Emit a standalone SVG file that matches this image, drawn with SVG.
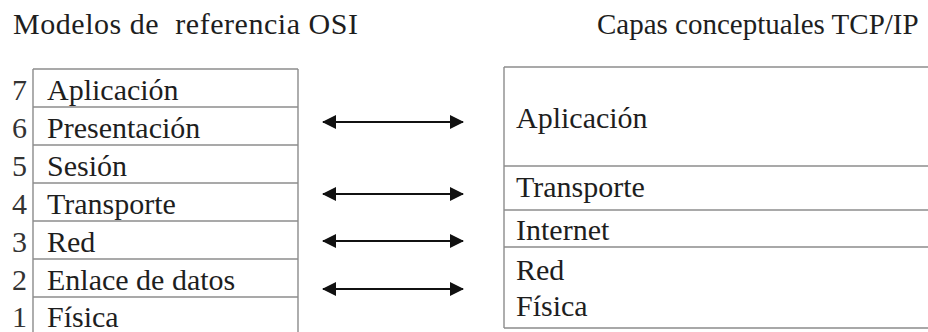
<svg xmlns="http://www.w3.org/2000/svg" width="928" height="332" viewBox="0 0 928 332">
  <style>
    text { font-family: "Liberation Serif", "Times New Roman", serif; fill: #1e1e1e; }
    .title { font-size: 30px; }
    .title-r { font-size: 29px; }
    .layer { font-size: 30px; }
    .num { font-size: 30px; fill: #333; }
    .rule { stroke: #8c8c8c; stroke-width: 1.4; fill: none; }
    .link { stroke: #111; stroke-width: 2; fill: none; }
  </style>
  <defs>
    <marker id="head" viewBox="0 0 14 14" refX="13" refY="7" markerWidth="14" markerHeight="14" markerUnits="userSpaceOnUse" orient="auto-start-reverse">
      <path d="M0,0 L14,7 L0,14 Z" fill="#111"/>
    </marker>
  </defs>

  <rect width="928" height="332" fill="#ffffff"/>

  <!-- headings -->
  <text class="title" x="13" y="34" textLength="345" lengthAdjust="spacing" xml:space="preserve">Modelos de  referencia OSI</text>
  <text class="title-r" x="597" y="34">Capas conceptuales TCP/IP</text>

  <!-- OSI reference model: seven stacked layers -->
  <g id="osi">
    <path class="rule" d="M33,69 V332 M298,69 V332"/>
    <g id="osi-7">
      <path class="rule" d="M33,69 H298"/>
      <text class="num" x="12" y="100">7</text>
      <text class="layer" x="47" y="100">Aplicación</text>
    </g>
    <g id="osi-6">
      <path class="rule" d="M33,107 H298"/>
      <text class="num" x="12" y="138">6</text>
      <text class="layer" x="47" y="138">Presentación</text>
    </g>
    <g id="osi-5">
      <path class="rule" d="M33,145 H298"/>
      <text class="num" x="12" y="176">5</text>
      <text class="layer" x="47" y="176">Sesión</text>
    </g>
    <g id="osi-4">
      <path class="rule" d="M33,183 H298"/>
      <text class="num" x="12" y="214">4</text>
      <text class="layer" x="47" y="214">Transporte</text>
    </g>
    <g id="osi-3">
      <path class="rule" d="M33,221 H298"/>
      <text class="num" x="12" y="252">3</text>
      <text class="layer" x="47" y="252">Red</text>
    </g>
    <g id="osi-2">
      <path class="rule" d="M33,259 H298"/>
      <text class="num" x="12" y="290">2</text>
      <text class="layer" x="47" y="290">Enlace de datos</text>
    </g>
    <g id="osi-1">
      <path class="rule" d="M33,297 H298"/>
      <text class="num" x="12" y="327">1</text>
      <text class="layer" x="47" y="327">Física</text>
    </g>
  </g>

  <!-- TCP/IP conceptual layers -->
  <g id="tcpip">
    <path class="rule" d="M504,67 V328"/>
    <g id="tcp-aplicacion">
      <path class="rule" d="M504,67 H928"/>
      <text class="layer" x="516" y="128">Aplicación</text>
    </g>
    <g id="tcp-transporte">
      <path class="rule" d="M504,166 H928"/>
      <text class="layer" x="516" y="197">Transporte</text>
    </g>
    <g id="tcp-internet">
      <path class="rule" d="M504,210 H928"/>
      <text class="layer" x="516" y="240">Internet</text>
    </g>
    <g id="tcp-red-fisica">
      <path class="rule" d="M504,247 H928 M504,328 H928"/>
      <text class="layer" x="516" y="280">Red</text>
      <text class="layer" x="516" y="316">Física</text>
    </g>
  </g>

  <!-- correspondence arrows -->
  <g id="connectors">
    <line class="link" x1="323" y1="122" x2="463" y2="122" marker-start="url(#head)" marker-end="url(#head)"/>
    <line class="link" x1="323" y1="194" x2="463" y2="194" marker-start="url(#head)" marker-end="url(#head)"/>
    <line class="link" x1="323" y1="241" x2="463" y2="241" marker-start="url(#head)" marker-end="url(#head)"/>
    <line class="link" x1="323" y1="289" x2="463" y2="289" marker-start="url(#head)" marker-end="url(#head)"/>
  </g>
</svg>
